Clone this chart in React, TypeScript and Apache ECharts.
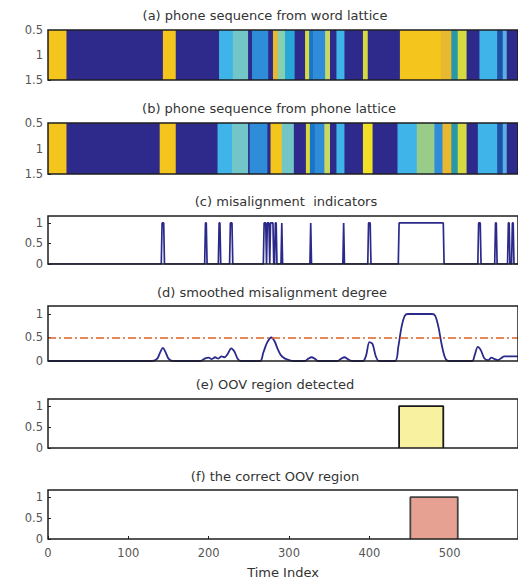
import React, { useEffect, useRef } from "react";
import * as echarts from "echarts";

// ---------- data ----------
const X_MAX = 585;
const xTicks = [0, 100, 200, 300, 400, 500];

const panelTitles = [
  "(a) phone sequence from word lattice",
  "(b) phone sequence from phone lattice",
  "(c) misalignment  indicators",
  "(d) smoothed misalignment degree",
  "(e) OOV region detected",
  "(f) the correct OOV region",
];

// phone class -> colour (parula-like)
const phoneColors = [
  "#2d2a8c", // 0 navy
  "#f4c51c", // 1 gold
  "#3eb4e8", // 2 sky blue
  "#72c6c8", // 3 light teal
  "#2e8cd8", // 4 blue
  "#e8b830", // 5 orange-yellow
  "#86cfb0", // 6 light green-cyan
  "#28a8d8", // 7 cyan-blue
  "#d6da40", // 8 yellow-green
  "#1a74c8", // 9 mid blue
  "#f2e026", // 10 bright yellow
  "#98cc88", // 11 light green
  "#2a98a8", // 12 dark teal
  "#1e52a8", // 13 darker blue
  "#5aaee4", // 14 light blue
  "#c8d860", // 15 light yellow-green
];

// [start, end, phoneClass]
const wordLatticeSegments = [
  [0, 23, 1], [23, 143, 0], [143, 159, 1], [159, 213, 0], [213, 230, 2], [230, 249, 3],
  [249, 254, 0], [254, 274, 4], [274, 280, 0], [280, 286, 5], [286, 295, 6], [295, 307, 7],
  [307, 320, 0], [320, 325, 8], [325, 330, 9], [330, 345, 4], [345, 351, 15], [351, 359, 0],
  [359, 369, 2], [369, 392, 0], [392, 398, 8], [398, 438, 0], [438, 489, 1], [489, 502, 5],
  [502, 510, 12], [510, 521, 8], [521, 537, 0], [537, 559, 2], [559, 566, 13], [566, 571, 14],
  [571, 585, 0],
];

const phoneLatticeSegments = [
  [0, 23, 1], [23, 139, 0], [139, 159, 1], [159, 211, 0], [211, 229, 2], [229, 249, 3],
  [249, 251, 0], [251, 273, 4], [273, 277, 0], [277, 291, 1], [291, 306, 3], [306, 321, 0],
  [321, 326, 8], [326, 332, 9], [332, 344, 4], [344, 351, 15], [351, 359, 0], [359, 369, 2],
  [369, 392, 0], [392, 404, 10], [404, 435, 0], [435, 459, 2], [459, 481, 11], [481, 491, 4],
  [491, 502, 5], [502, 510, 12], [510, 521, 8], [521, 535, 0], [535, 559, 2], [559, 566, 13],
  [566, 571, 14], [571, 585, 0],
];

// intervals where misalignment indicator = 1
const misalignIntervals = [
  [142, 144], [196, 197], [213, 214], [227, 229], [269, 271], [273, 275], [277, 280],
  [283, 284], [291, 291], [327, 327], [368, 368], [399, 401], [437, 492], [536, 538],
  [557, 558], [573, 574], [578, 579],
];

// smoothed misalignment degree
const smoothT = [
  0, 130, 136, 140, 143, 146, 150, 155,
  190, 195, 200, 204, 208, 212, 216, 220, 224, 228, 232, 236, 240,
  264, 268, 273, 278, 282, 286, 290, 295, 300, 305,
  320, 324, 328, 332, 336,
  360, 365, 369, 373, 378,
  392, 396, 400, 404, 408, 412,
  432, 436, 440, 444, 448, 478, 482, 486, 490, 494, 498,
  528, 531, 535, 539, 543, 548, 552, 556, 560, 564, 568, 572, 578, 585,
];
const smoothV = [
  0, 0, 0.05, 0.2, 0.28, 0.2, 0.05, 0,
  0, 0.05, 0.07, 0.04, 0.08, 0.05, 0.1, 0.08, 0.16, 0.27, 0.2, 0.05, 0,
  0, 0.18, 0.4, 0.5, 0.42, 0.25, 0.12, 0.05, 0.02, 0,
  0, 0.05, 0.08, 0.05, 0,
  0, 0.05, 0.08, 0.04, 0,
  0, 0.12, 0.4, 0.36, 0.1, 0,
  0, 0.3, 0.72, 0.96, 1.0, 1.0, 0.96, 0.72, 0.35, 0.08, 0,
  0, 0.12, 0.3, 0.22, 0.06, 0.02, 0.07, 0.04, 0.02, 0.06, 0.1, 0.1, 0.1, 0.1,
];
const thresholdValue = 0.5;

const detectedRegion = [437, 492];
const correctRegion = [451, 510];

// ---------- layout ----------
const gridTops = [30, 123, 216, 306, 399, 490];
const gridHeights = [50, 51, 48, 55, 49, 49];
const titleX = [265, 269, 286, 272, 275, 275];
const titleY = [15, 108, 201, 292, 384, 476];

const FONT = '"DejaVu Sans", "Liberation Sans", sans-serif';

function pulseLine(intervals: number[][], end: number) {
  const pts: number[][] = [[0, 0]];
  for (const [s, e] of intervals) {
    pts.push([s - 1, 0], [s, 1], [e, 1], [e + 1, 0]);
  }
  pts.push([end, 0]);
  return pts;
}

function boxLine(region: number[]) {
  return [[region[0], 0], [region[0], 1], [region[1], 1], [region[1], 0]];
}

export default function App() {
  const ref = useRef<HTMLDivElement>(null);

  useEffect(() => {
    if (!ref.current) return;
    const chart = echarts.init(ref.current, undefined, { renderer: "svg" });

    const grids = gridTops.map((top, i) => ({
      left: 48,
      right: 0,
      top,
      height: gridHeights[i],
      show: true,
      z: 10,
      borderColor: "#1e1e1e",
      borderWidth: 1.5,
      backgroundColor: "transparent",
    }));

    const xAxes = gridTops.map((_, i) => {
      const last = i === gridTops.length - 1;
      return {
        type: "value",
        gridIndex: i,
        min: 0,
        max: X_MAX,
        interval: xTicks[1] - xTicks[0],
        axisLine: { show: false },
        axisTick: { show: last, inside: true, length: 3, lineStyle: { color: "#222" } },
        splitLine: { show: false },
        axisLabel: {
          show: last,
          showMaxLabel: false,
          margin: 8,
          fontFamily: FONT,
          fontSize: 11.5,
          color: "#555",
        },
        name: last ? "Time Index" : "",
        nameLocation: "middle",
        nameGap: 27,
        nameTextStyle: { fontFamily: FONT, fontSize: 13, color: "#333" },
      };
    });

    const yAxes = gridTops.map((_, i) => {
      const strip = i < 2;
      return {
        type: "value",
        gridIndex: i,
        min: strip ? 0.5 : 0,
        max: strip ? 1.5 : 1.17,
        interval: 0.5,
        inverse: strip,
        axisLine: { show: false },
        axisTick: { show: true, inside: true, length: 3, lineStyle: { color: "#222" } },
        splitLine: { show: false },
        axisLabel: {
          showMaxLabel: strip,
          margin: 5,
          fontFamily: FONT,
          fontSize: 11.5,
          color: "#555",
        },
      };
    });

    const stripSeries = (data: number[][], idx: number) => ({
      type: "custom",
      xAxisIndex: idx,
      yAxisIndex: idx,
      data,
      encode: { x: [0, 1] },
      renderItem: (_params: any, api: any) => {
        const s = api.value(0);
        const e = api.value(1);
        const p0 = api.coord([s, 0.5]);
        const p1 = api.coord([e, 1.5]);
        const y0 = Math.min(p0[1], p1[1]);
        return {
          type: "rect",
          shape: {
            x: p0[0],
            y: y0,
            width: p1[0] - p0[0] + 0.6,
            height: Math.abs(p1[1] - p0[1]),
          },
          style: { fill: phoneColors[api.value(2)] },
        };
      },
    });

    const option: any = {
      animation: false,
      backgroundColor: "#fff",
      grid: grids,
      xAxis: xAxes,
      yAxis: yAxes,
      graphic: panelTitles.map((t, i) => ({
        type: "text",
        x: titleX[i],
        y: titleY[i],
        style: {
          text: t,
          textAlign: "center",
          textVerticalAlign: "middle",
          font: `13px ${FONT}`,
          fill: "#333",
        },
      })),
      series: [
        stripSeries(wordLatticeSegments, 0),
        stripSeries(phoneLatticeSegments, 1),
        {
          type: "line",
          xAxisIndex: 2,
          yAxisIndex: 2,
          data: pulseLine(misalignIntervals, X_MAX),
          showSymbol: false,
          lineStyle: { color: "#2b2a8a", width: 1.7 },
        },
        {
          type: "line",
          xAxisIndex: 3,
          yAxisIndex: 3,
          data: smoothT.map((t, k) => [t, smoothV[k]]),
          smooth: 0.3,
          showSymbol: false,
          lineStyle: { color: "#2b2a8a", width: 1.8 },
          markLine: {
            silent: true,
            symbol: ["none", "none"],
            label: { show: false },
            lineStyle: { color: "#e0602a", type: [8, 3, 2, 3], width: 1.5 },
            data: [{ yAxis: thresholdValue }],
          },
        },
        {
          type: "line",
          xAxisIndex: 4,
          yAxisIndex: 4,
          data: boxLine(detectedRegion),
          showSymbol: false,
          lineStyle: { color: "#1a1a1a", width: 1.8 },
          areaStyle: { color: "#f8f1a0", opacity: 1 },
        },
        {
          type: "line",
          xAxisIndex: 5,
          yAxisIndex: 5,
          data: boxLine(correctRegion),
          showSymbol: false,
          lineStyle: { color: "#444", width: 1.8 },
          areaStyle: { color: "#e6a192", opacity: 1 },
        },
      ],
    };

    chart.setOption(option);
    return () => chart.dispose();
  }, []);

  return (
    <div
      ref={ref}
      style={{ position: "fixed", left: 0, top: 0, width: 518, height: 582 }}
    />
  );
}
